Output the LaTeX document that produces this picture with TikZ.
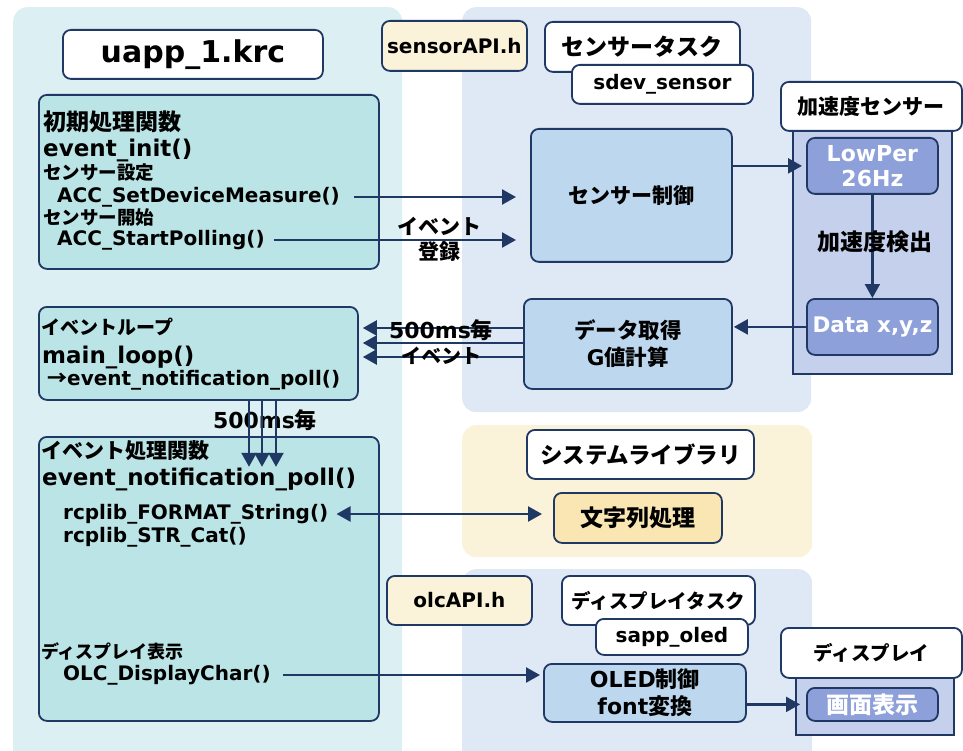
\documentclass[tikz,border=0pt]{standalone}
\usepackage{fontspec}
\setmainfont{DejaVu Sans}
\newfontfamily\jp{Noto Sans CJK JP}
\usetikzlibrary{arrows.meta}
\definecolor{navy}{HTML}{1F3864}
\definecolor{lpanel}{HTML}{DCF0F3}
\definecolor{cyanbox}{HTML}{BBE4E7}
\definecolor{bpanel}{HTML}{DEE9F5}
\definecolor{bluebox}{HTML}{BDD7EE}
\definecolor{cream}{HTML}{FBF2DA}
\definecolor{ybox}{HTML}{F9E6B2}
\definecolor{accbody}{HTML}{C5D0EC}
\definecolor{peri}{HTML}{8EA0DA}
\newcommand\bx[7]{\node[#6,anchor=north west,minimum width={(#4-#2)*1pt},minimum height={(#5-#3)*1pt},inner sep=0pt] (#1) at (#2,#3) {#7};}
\begin{document}
\begin{tikzpicture}[x=1pt,y=-1pt,
  fs/.style={font=\bfseries\fontsize{#1}{#1}\selectfont},
  jfs/.style={font=\bfseries\jp\fontsize{#1}{#1}\selectfont},
  txt/.style={inner sep=0pt,anchor=west},
  panel/.style={rounded corners=14pt,draw=none},
  box/.style={draw=navy,line width=1.8pt,rounded corners=8pt},
  tip/.tip={Triangle[length=14pt,width=15pt]},
  arr/.style={draw=navy,line width=2.3pt,-tip},
  darr/.style={draw=navy,line width=2.3pt,tip-tip},
  ]
\useasboundingbox (0,0) rectangle (963,751);
\clip (0,0) rectangle (963,751);
\fill[white] (0,0) rectangle (963,751);
% panels
\bx{lp}{13}{7}{402}{770}{panel,fill=lpanel}{}
\bx{sp}{462}{7}{811}{412}{panel,fill=bpanel}{}
\bx{slp}{462}{425}{812}{557}{panel,fill=cream}{}
\bx{dp}{462}{569}{812}{770}{panel,fill=bpanel}{}
% left column
\bx{title}{62}{29}{322}{78}{box,fill=white,fs=30}{uapp\_1.krc}
\bx{init}{38}{94}{378}{268}{box,fill=cyanbox}{}
\node[txt,jfs=23] (i1) at (43,122) {初期処理関数};
\node[txt,fs=23] (i2) at (43,150) {event\_init()};
\node[txt,jfs=18.5] (i3) at (43,173) {センサー設定};
\node[txt,fs=20] (i4) at (57,197) {ACC\_SetDeviceMeasure()};
\node[txt,jfs=18.5] (i5) at (43,218) {センサー開始};
\node[txt,fs=20] (i6) at (57,240) {ACC\_StartPolling()};
\bx{loop}{38}{306}{357}{399}{box,fill=cyanbox}{}
\node[txt,jfs=19] (l1) at (41,327) {イベントループ};
\node[txt,fs=23] (l2) at (42,357) {main\_loop()};
\node[txt,fs=20] (l3) at (47,380) {{\jp →}event\_notification\_poll()};
\bx{hdl}{38}{436}{378}{720}{box,fill=cyanbox}{}
\node[txt,jfs=21] (h1) at (41,451) {イベント処理関数};
\node[txt,fs=23] (h2) at (42,479) {event\_notification\_poll()};
\node[txt,fs=20] (h3) at (63,514) {rcplib\_FORMAT\_String()};
\node[txt,fs=20] (h4) at (63,537) {rcplib\_STR\_Cat()};
\node[txt,jfs=18] (h5) at (41,651) {ディスプレイ表示};
\node[txt,fs=20] (h6) at (63,675) {OLC\_DisplayChar()};
% sensor task
\bx{sapi}{381}{20}{526}{70}{box,fill=cream,fs=20}{sensorAPI.h}
\bx{stask}{544}{21}{739}{71}{box,fill=white,jfs=23}{センサータスク}
\bx{sdev}{571}{64}{752}{103}{box,fill=white,fs=20}{sdev\_sensor}
\bx{accb}{792}{130}{951}{373}{draw=navy,line width=1.5pt,fill=accbody}{}
\bx{acch}{780}{81}{961}{130}{box,fill=white,jfs=21}{加速度センサー}
\bx{lowp}{806}{137}{937}{193}{box,fill=peri,text=white,align=center,font=\bfseries\fontsize{22}{25}\selectfont}{LowPer\\26Hz}
\bx{data}{806}{298}{937}{354}{box,fill=peri,text=white,fs=21.5}{Data x,y,z}
\bx{sctl}{530}{128}{731}{261}{box,fill=bluebox,jfs=21}{センサー制御}
\bx{dget}{523}{298}{731}{388}{box,fill=bluebox,align=center,font=\bfseries\jp\fontsize{21.5}{27}\selectfont}{データ取得\\{\fontspec{DejaVu Sans}G}値計算}
\draw[arr,shorten >=4pt] (lowp.west -| sctl.east) -- (lowp.west);
\draw[arr] (lowp.south) -- (data.north);
\node[jfs=23] (accdet) at (875,242) {加速度検出};
\draw[arr,shorten >=1pt] (data.west) -- (data.west -| dget.east);
% init arrows
\draw[arr,shorten <=14pt,shorten >=14pt] (i4.east) -- (i4.east -| sctl.west);
\draw[arr,shorten <=9pt,shorten >=14pt] (i6.east) -- (i6.east -| sctl.west);
\node[align=center,font=\bfseries\jp\fontsize{21}{25}\selectfont] (evreg) at (439,239) {イベント\\登録};
% loop arrows
\foreach \yy in {328,343,357} \draw[arr,shorten >=4pt] (dget.west |- 0,\yy) -- (loop.east |- 0,\yy);
\node[fs=22] (ms1) at (441,330) {500ms{\jp 毎}};
\node[jfs=20] (ev2) at (441,356) {イベント};
\node[fs=22] (ms2) at (265,420) {500ms{\jp 毎}};
\foreach \xx in {249,262,276} \draw[arr] (loop.south -| \xx,0) -- ++(0,66);
% system library
\bx{slib}{526}{429}{753}{478}{box,fill=white,jfs=22.5}{システムライブラリ}
\bx{strp}{553}{492}{721}{542}{box,fill=ybox,jfs=23}{文字列処理}
\draw[darr,shorten <=8pt,shorten >=11pt] (h3.east) -- (h3.east -| strp.west);
% display
\bx{oapi}{386}{575}{531}{624}{box,fill=cream,fs=20}{olcAPI.h}
\bx{dtask}{561}{575}{754}{624}{box,fill=white,jfs=19.5}{ディスプレイタスク}
\bx{soled}{595}{618}{747}{654}{box,fill=white,fs=20}{sapp\_oled}
\bx{dispb}{795}{677}{953}{734}{draw=navy,line width=1.5pt,fill=accbody}{}
\bx{disph}{780}{627}{961}{677}{box,fill=white,jfs=19.5}{ディスプレイ}
\bx{scr}{806}{687}{937}{720}{box,fill=peri,text=white,jfs=23}{画面表示}
\bx{oled}{543}{663}{745}{721}{box,fill=bluebox,align=center,font=\bfseries\fontsize{22}{27}\selectfont}{OLED{\jp 制御}\\font{\jp 変換}}
\draw[arr,shorten <=12pt,shorten >=3pt] (h6.east) -- (h6.east -| oled.west);
\draw[arr,shorten >=6pt] (scr.west -| oled.east) -- (scr.west);
\end{tikzpicture}
\end{document}
